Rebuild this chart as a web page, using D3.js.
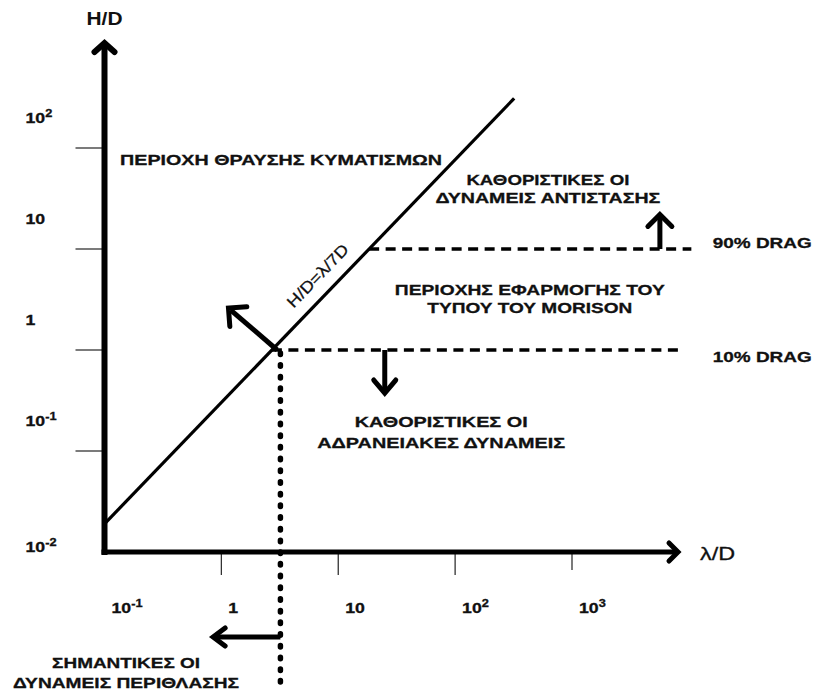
<!DOCTYPE html>
<html>
<head>
<meta charset="utf-8">
<script src="https://cdn.jsdelivr.net/npm/d3@7"></script>
<style>
  body { margin: 0; background: #fff; }
  svg { display: block; font-family: "Liberation Sans", Arial, sans-serif; }
</style>
</head>
<body>
<svg id="chart"></svg>
<script>
// decades on the axes
const xTickValues = [1, 10, 100, 1000];
const xLabelValues = [0.1, 1, 10, 100, 1000];
const yTickValues = [0.1, 1, 10, 100];
const yLabelValues = [0.01, 0.1, 1, 10, 100];

// H/D = λ/7D boundary, two end points (λ/D, H/D)
const boundaryX = [0.1, 320];
const boundaryY = [0.019, 310];

// drag limits
const dragLevels = [1, 10];
const dragEnds = [9000, 10500];
const dragLabels = ["10% DRAG", "90% DRAG"];
const dragLabelY = [0.76, 10.2];
const dragLabelX = 16000;

// diffraction limit (vertical dotted line)
const diffX = 3.2;
const diffBottom = 0.0005;

// arrows: from -> to, in (λ/D, H/D)
const arrowFrom = [[3, 1], [25, 1], [5650, 10], [3.2, 0.00144]];
const arrowTo = [[1.15, 2.6], [25, 0.375], [5650, 22], [0.85, 0.00144]];

// region captions
const regionLines = [
  ["ΠΕΡΙΟΧΗ ΘΡΑΥΣΗΣ ΚΥΜΑΤΙΣΜΩΝ"],
  ["ΚΑΘΟΡΙΣΤΙΚΕΣ ΟΙ", "ΔΥΝΑΜΕΙΣ ΑΝΤΙΣΤΑΣΗΣ"],
  ["ΠΕΡΙΟΧΗΣ ΕΦΑΡΜΟΓΗΣ ΤΟΥ", "ΤΥΠΟΥ ΤΟΥ MORISON"],
  ["ΚΑΘΟΡΙΣΤΙΚΕΣ ΟΙ", "ΑΔΡΑΝΕΙΑΚΕΣ ΔΥΝΑΜΕΙΣ"],
  ["ΣΗΜΑΝΤΙΚΕΣ ΟΙ", "ΔΥΝΑΜΕΙΣ ΠΕΡΙΘΛΑΣΗΣ"]
];
const regionX = [0.136, 622, 436, 76, 0.153];
const regionY = [68, 43, 3.5, 0.173, 0.00071];

// layout of the captions (pixel widths / line gaps)
const regionAnchor = ["start", "middle", "middle", "middle", "middle"];
const regionWidths = [[322], [163, 225], [270, 205], [173, 248], [148, 226]];
const regionGap = [0, 18, 18, 21, 20];

let svg = d3.select("#chart")
  .attr("width", 814)
  .attr("height", 693);

svg.append("rect").attr("width", 814).attr("height", 693).attr("fill", "#fff");

let x = d3.scaleLog()
  .domain([0.1, 1000])
  .range([104.5, 572]);
let y = d3.scaleLog()
  .domain([0.01, 100])
  .range([552, 148]);

const ink = "#000";
const textInk = "#111";

const arrow = (g, [x1, y1], [x2, y2], w, len, half) => {
  let dx = x2 - x1, dy = y2 - y1, L = Math.hypot(dx, dy);
  let ux = dx / L, uy = dy / L, nx = -uy, ny = ux;
  g.append("line")
    .attr("x1", x1).attr("y1", y1)
    .attr("x2", x2 - ux * w * 0.6).attr("y2", y2 - uy * w * 0.6)
    .attr("stroke", ink).attr("stroke-width", w);
  g.append("path")
    .attr("d", `M${x2 - len * ux + half * nx},${y2 - len * uy + half * ny}` +
               `L${x2},${y2}` +
               `L${x2 - len * ux - half * nx},${y2 - len * uy - half * ny}`)
    .attr("fill", "none")
    .attr("stroke", ink)
    .attr("stroke-width", w)
    .attr("stroke-linecap", "round")
    .attr("stroke-linejoin", "miter");
}

// exponent label: 10^e
const powLabel = (sel, v) => {
  let e = Math.round(Math.log10(v));
  if (e === 0) { sel.append("tspan").text("1"); return; }
  sel.append("tspan").text("10");
  if (e !== 1) {
    sel.append("tspan")
      .attr("dy", -6)
      .attr("font-size", 10.5)
      .text(e < 0 ? `-${-e}` : `${e}`);
  }
}

// ---- ticks
let ticks = svg.append("g").attr("stroke", "#333").attr("stroke-width", 1.3);
ticks.selectAll("line.yt").data(yTickValues).enter().append("line")
  .attr("class", "yt")
  .attr("x1", x(0.1) - 29).attr("x2", x(0.1))
  .attr("y1", d => y(d)).attr("y2", d => y(d));
ticks.selectAll("line.xt").data(xTickValues).enter().append("line")
  .attr("class", "xt")
  .attr("x1", d => x(d)).attr("x2", d => x(d))
  .attr("y1", y(0.01)).attr("y2", d => y(0.01) + (d === 1000 ? 18 : 23));

// ---- tick labels
let labels = svg.append("g")
  .attr("font-weight", "bold")
  .attr("font-size", 14.5)
  .attr("fill", textInk)
  .attr("stroke", textInk)
  .attr("stroke-width", 0.3);

labels.selectAll("text.yl").data(yLabelValues).enter().append("text")
  .attr("class", "yl")
  .attr("x", x(0.1) - 79)
  .attr("y", d => d === 0.01 ? y(d) : y(d * 10) + 76)
  .attr("transform", function(d) {
    let tx = x(0.1) - 79;
    return `translate(${tx},0) scale(1.22,1) translate(${-tx},0)`;
  })
  .each(function(d) { powLabel(d3.select(this), d); });

labels.selectAll("text.xl").data(xLabelValues).enter().append("text")
  .attr("class", "xl")
  .attr("x", d => x(d) + 7)
  .attr("y", y(0.01) + 61)
  .attr("transform", function(d) {
    let tx = x(d) + 7;
    return `translate(${tx},0) scale(1.22,1) translate(${-tx},0)`;
  })
  .each(function(d) { powLabel(d3.select(this), d); });

// ---- axes with arrow heads
let axes = svg.append("g");
arrow(axes, [x(0.1), y(0.01) + 3], [x(0.1), 43], 6, 9, 10);
arrow(axes, [x(0.1) - 3, y(0.01)], [678, y(0.01)], 5, 9, 9);

svg.append("text")
  .attr("x", x(0.1)).attr("y", 25)
  .attr("text-anchor", "middle")
  .attr("font-size", 18).attr("font-weight", "bold")
  .attr("textLength", 36).attr("lengthAdjust", "spacingAndGlyphs")
  .attr("fill", textInk)
  .text("H/D");
svg.append("text")
  .attr("x", 700).attr("y", y(0.01) + 8)
  .attr("font-size", 18)
  .attr("textLength", 35).attr("lengthAdjust", "spacingAndGlyphs")
  .attr("fill", textInk)
  .attr("stroke", textInk).attr("stroke-width", 0.3)
  .text("λ/D");

// ---- boundary line H/D = λ/7D
let p0 = [x(boundaryX[0]), y(boundaryY[0])];
let p1 = [x(boundaryX[1]), y(boundaryY[1])];
svg.append("line")
  .attr("x1", p0[0]).attr("y1", p0[1])
  .attr("x2", p1[0]).attr("y2", p1[1])
  .attr("stroke", ink).attr("stroke-width", 3.2);

// where the boundary reaches a given H/D
const crossAt = (v) => {
  let ly0 = Math.log10(boundaryY[0]), ly1 = Math.log10(boundaryY[1]);
  let t = (Math.log10(v) - ly0) / (ly1 - ly0);
  let lx = Math.log10(boundaryX[0]) + t * (Math.log10(boundaryX[1]) - Math.log10(boundaryX[0]));
  return Math.pow(10, lx);
}

// rotated label along the line
{
  let f = 0.553;
  let ang = Math.atan2(p1[1] - p0[1], p1[0] - p0[0]);
  let px = p0[0] + f * (p1[0] - p0[0]);
  let py = p0[1] + f * (p1[1] - p0[1]);
  let nx = Math.sin(ang), ny = -Math.cos(ang);
  let cx = px + nx * 13, cy = py + ny * 13;
  svg.append("text")
    .attr("transform", `translate(${cx},${cy}) rotate(${ang * 180 / Math.PI})`)
    .attr("text-anchor", "middle")
    .attr("font-size", 16)
    .attr("textLength", 81).attr("lengthAdjust", "spacingAndGlyphs")
    .attr("fill", textInk)
    .attr("stroke", textInk).attr("stroke-width", 0.25)
    .text("H/D=λ/7D");
}

// ---- drag lines
svg.selectAll("line.drag").data(dragLevels).enter().append("line")
  .attr("class", "drag")
  .attr("x1", d => x(crossAt(d)))
  .attr("x2", (d, i) => x(dragEnds[i]))
  .attr("y1", d => y(d)).attr("y2", d => y(d))
  .attr("stroke", ink)
  .attr("stroke-width", 3.5)
  .attr("stroke-dasharray", "10 6.5");

svg.selectAll("text.drag").data(dragLabels).enter().append("text")
  .attr("class", "drag")
  .attr("x", x(dragLabelX))
  .attr("y", (d, i) => y(dragLabelY[i]))
  .attr("font-size", 15.5).attr("font-weight", "bold")
  .attr("textLength", 99).attr("lengthAdjust", "spacingAndGlyphs")
  .attr("fill", textInk)
  .attr("stroke", textInk).attr("stroke-width", 0.3)
  .text(d => d);

// ---- diffraction dotted line
svg.append("line")
  .attr("x1", x(diffX)).attr("x2", x(diffX))
  .attr("y1", y(1) + 3).attr("y2", y(diffBottom))
  .attr("stroke", ink)
  .attr("stroke-width", 5.5)
  .attr("stroke-linecap", "round")
  .attr("stroke-dasharray", "1.5 10.2");

// ---- arrows
let arrows = svg.append("g");
const arrowSize = [[5, 13, 13], [5, 13, 11], [5, 12, 12], [5, 12, 9]];
arrowFrom.forEach((a, i) => {
  let [w, len, half] = arrowSize[i];
  arrow(arrows, [x(a[0]), y(a[1])], [x(arrowTo[i][0]), y(arrowTo[i][1])], w, len, half);
});

// ---- region captions
let captions = svg.append("g")
  .attr("font-size", 15.5)
  .attr("font-weight", "bold")
  .attr("fill", textInk)
  .attr("stroke", textInk)
  .attr("stroke-width", 0.3);

regionLines.forEach((lines, i) => {
  lines.forEach((line, j) => {
    captions.append("text")
      .attr("x", x(regionX[i]))
      .attr("y", y(regionY[i]) + j * regionGap[i])
      .attr("text-anchor", regionAnchor[i])
      .attr("textLength", regionWidths[i][j])
      .attr("lengthAdjust", "spacingAndGlyphs")
      .text(line);
  });
});
</script>
</body>
</html>
